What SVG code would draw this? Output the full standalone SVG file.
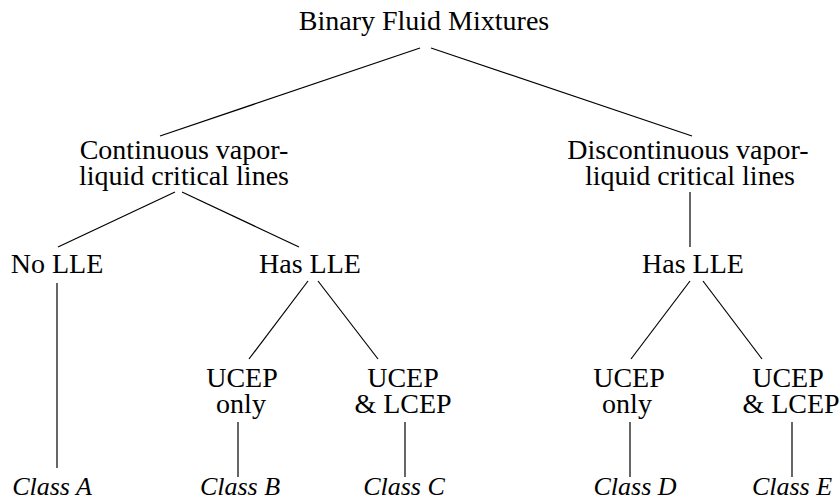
<svg xmlns="http://www.w3.org/2000/svg" width="840" height="500" viewBox="0 0 840 500">
<rect width="840" height="500" fill="#fff"/>
<g id="connectors" stroke="#000" stroke-width="1.2">
<line x1="420" y1="48" x2="160" y2="136"/>
<line x1="431" y1="48" x2="692" y2="136"/>
<line x1="175" y1="192" x2="58" y2="247"/>
<line x1="182" y1="192" x2="299" y2="247"/>
<line x1="690" y1="192" x2="690" y2="247"/>
<line x1="57" y1="283" x2="57" y2="468"/>
<line x1="308" y1="281" x2="249" y2="359"/>
<line x1="318" y1="281" x2="378" y2="359"/>
<line x1="690" y1="281" x2="631" y2="359"/>
<line x1="703" y1="281" x2="762" y2="359"/>
<line x1="238" y1="422" x2="238" y2="477"/>
<line x1="405" y1="422" x2="405" y2="477"/>
<line x1="630" y1="422" x2="630" y2="477"/>
<line x1="792" y1="422" x2="792" y2="477"/>
</g>
<g id="nodes" font-family="Liberation Serif, Times New Roman, serif" font-size="28" fill="#000" text-anchor="middle">
<g id="root"><text x="424" y="30">Binary Fluid Mixtures</text></g>
<g id="continuous"><text x="184" y="159">Continuous vapor-</text><text x="184" y="185">liquid critical lines</text></g>
<g id="discontinuous"><text x="688" y="159">Discontinuous vapor-</text><text x="690" y="185">liquid critical lines</text></g>
<g id="nolle"><text x="57" y="273">No LLE</text></g>
<g id="haslle1"><text x="310" y="273">Has LLE</text></g>
<g id="haslle2"><text x="693" y="273">Has LLE</text></g>
<g id="ucep1"><text x="242" y="387">UCEP</text><text x="241" y="413">only</text></g>
<g id="ucepl1"><text x="403" y="387">UCEP</text><text x="403" y="413">&amp; LCEP</text></g>
<g id="ucep2"><text x="629" y="387">UCEP</text><text x="627" y="413">only</text></g>
<g id="ucepl2"><text x="788" y="387">UCEP</text><text x="791" y="413">&amp; LCEP</text></g>
<g font-style="italic" font-size="26">
<g id="classA"><text x="52" y="495">Class A</text></g>
<g id="classB"><text x="240" y="495">Class B</text></g>
<g id="classC"><text x="404" y="495">Class C</text></g>
<g id="classD"><text x="635" y="495">Class D</text></g>
<g id="classE"><text x="792" y="495">Class E</text></g>
</g>
</g>
</svg>
